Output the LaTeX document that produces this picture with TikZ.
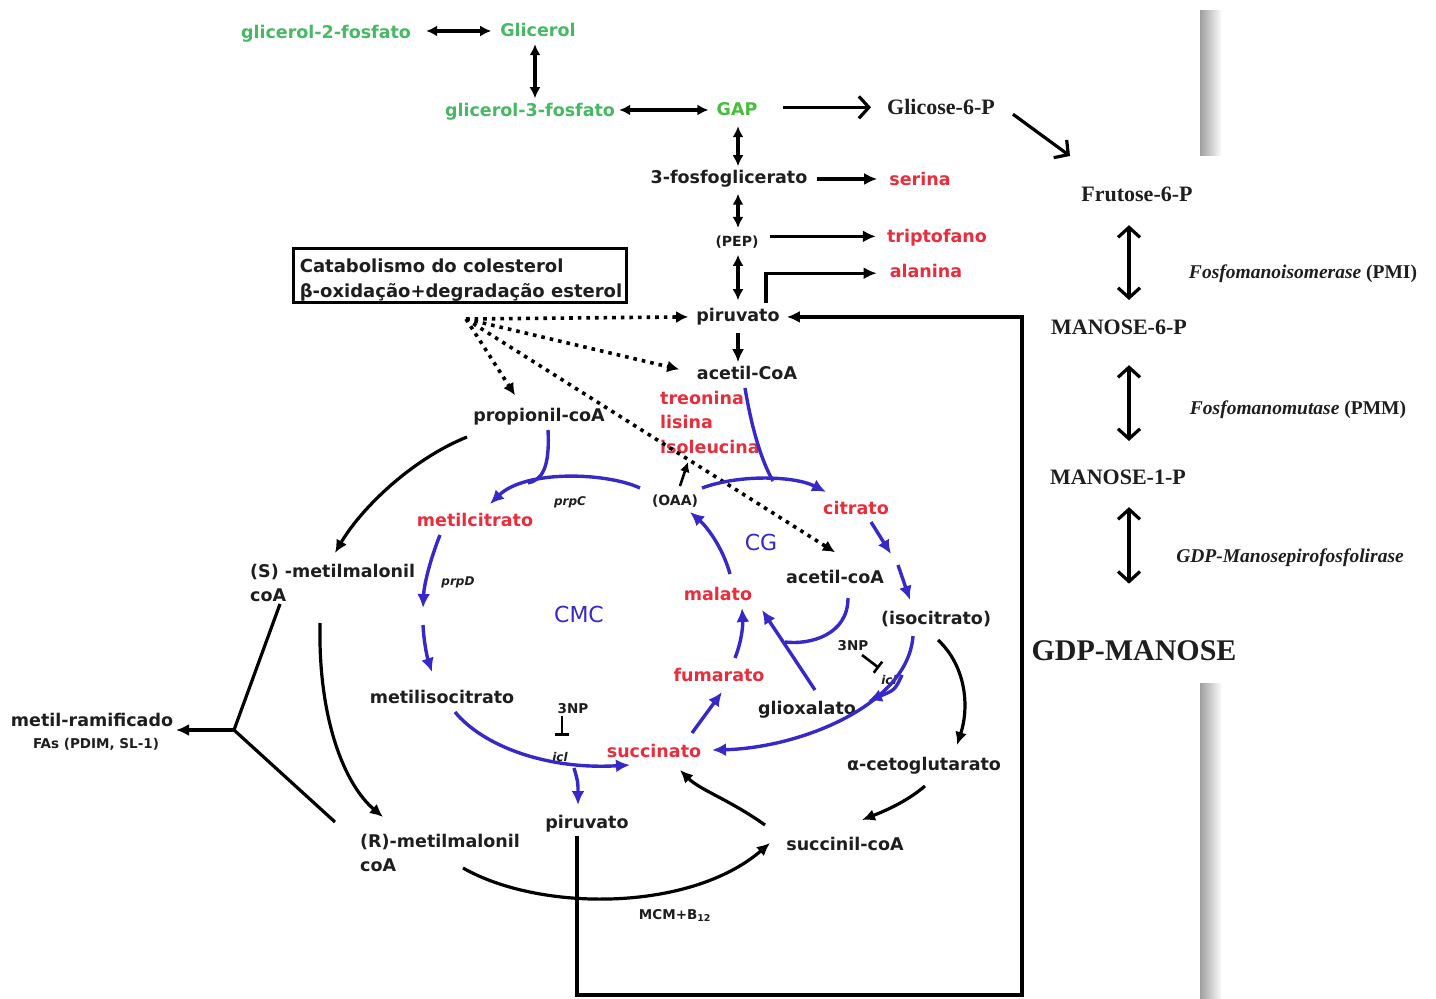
\documentclass[tikz,border=0pt]{standalone}
\usepackage{fontspec}
\setmainfont{DejaVu Sans}
\newfontfamily\serfont{Liberation Serif}
\usetikzlibrary{arrows.meta}
\definecolor{gr}{RGB}{72,184,100}
\definecolor{grb}{RGB}{70,190,60}
\definecolor{rd}{RGB}{232,45,60}
\definecolor{bl}{RGB}{55,40,200}
\definecolor{tx}{RGB}{30,30,30}
\tikzset{
 lab/.style={font=\fontsize{17.5}{21}\selectfont\bfseries, text=tx, inner sep=1pt, anchor=mid, yshift=-5pt},
 labtwo/.style={font=\fontsize{17.5}{24}\selectfont\bfseries, text=tx, inner sep=1pt, align=left, anchor=north west, yshift=-2pt},
 glab/.style={lab, text=gr},
 rlab/.style={lab, text=rd},
 sml/.style={lab, font=\fontsize{14}{16}\selectfont\bfseries},
 tny/.style={lab, font=\fontsize{13.5}{15}\selectfont\bfseries},
 itl/.style={lab, font=\fontsize{12}{14}\selectfont\bfseries\itshape},
 bll/.style={lab, font=\fontsize{22}{26}\selectfont, text=bl},
 ser/.style={font=\serfont\fontsize{22}{26}\selectfont\bfseries, text=tx, inner sep=1pt, anchor=mid, yshift=-5pt},
 bigser/.style={font=\serfont\fontsize{30}{34}\selectfont\bfseries, text=tx, inner sep=1pt, anchor=mid, yshift=-8pt},
 enz/.style={font=\serfont\fontsize{19.5}{22}\selectfont\bfseries, text=tx, inner sep=1pt, anchor=mid, yshift=-5pt},
 catframe/.style={draw=black, line width=3pt, minimum width=333pt, minimum height=54pt, inner sep=0pt},
 cattext/.style={align=left, font=\fontsize{18}{25}\selectfont\bfseries, text=tx, inner sep=0pt},
 conn/.style={draw=black, line width=3.2pt, -{Latex[length=13pt,width=12pt]}},
 dconn/.style={draw=black, line width=3.2pt, {Latex[length=11pt,width=11pt]}-{Latex[length=11pt,width=11pt]}},
 chev/.style={draw=black, line width=3.2pt, -{Straight Barb[length=10pt,width=22pt,line width=3.2pt]}},
 dchev/.style={draw=black, line width=3.2pt, {Straight Barb[length=10pt,width=22pt,line width=3.2pt]}-{Straight Barb[length=10pt,width=22pt,line width=3.2pt]}},
 bconn/.style={draw=bl, line width=3.4pt, -{Latex[length=14pt,width=13pt]}},
 bline/.style={draw=bl, line width=3.4pt},
 kline/.style={draw=black, line width=3.2pt},
 dotc/.style={draw=black, line width=3.6pt, dash pattern=on 3.6pt off 5pt, -{Latex[length=12pt,width=12pt]}},
 inh/.style={draw=black, line width=2.6pt, -{Bar[width=14pt,line width=2.6pt]}},
}
\begin{document}
\begin{tikzpicture}[x=1pt,y=-1pt]
\useasboundingbox (0,0) rectangle (1436,999);
\fill[white] (0,0) rectangle (1436,999);
% shadow bars
\shade[left color=gray!75, right color=white] (1200,10) rectangle (1222,155);
\shade[left color=gray!75, right color=white] (1200,683) rectangle (1222,999);

% ---- top (glycerol) ----
\node[glab] (g2f) at (326,31) {glicerol-2-fosfato};
\node[glab] (gli) at (538,29) {Glicerol};
\node[glab] (g3f) at (530,109) {glicerol-3-fosfato};
\node[lab, text=grb] (gap) at (737,108) {GAP};
\node[ser] (g6p) at (941,107) {Glicose-6-P};
\node[ser] (f6p) at (1137,194) {Frutose-6-P};
\node[ser] (m6p) at (1119,327) {MANOSE-6-P};
\node[ser] (m1p) at (1118,477) {MANOSE-1-P};
\node[bigser] (gdp) at (1134,650) {GDP-MANOSE};
\node[enz] (pmi) at (1303,271) {\itshape Fosfomanoisomerase \upshape(PMI)};
\node[enz] (pmm) at (1298,407) {\itshape Fosfomanomutase \upshape(PMM)};
\node[enz] (gmp) at (1290,555) {\itshape GDP-Manosepirofosfolirase};

\node[lab] (pfg) at (729,176) {3-fosfoglicerato};
\node[rlab] (ser) at (920,178) {serina};
\node[sml] (pep) at (737,239) {(PEP)};
\node[rlab] (trp) at (937,235) {triptofano};
\node[rlab] (ala) at (926,270) {alanina};
\node[lab] (pir) at (738,314) {piruvato};
\node[lab] (acoa) at (747,372) {acetil-CoA};
\node[catframe] (catb) at (459.5,275) {};
\node[cattext] (cat) at (461,280) {Catabolismo do colesterol\\β-oxidação+degradação esterol};

\node[lab] (prop) at (539,414) {propionil-coA};
\node[rlab, anchor=mid west] (tre) at (659,397) {treonina};
\node[rlab, anchor=mid west] (lis) at (659,421) {lisina};
\node[rlab, anchor=mid west] (ile) at (659,446) {isoleucina};
\node[sml] (oaa) at (675,498) {(OAA)};
\node[rlab] (cit) at (856,507) {citrato};
\node[bll] (cg) at (761,543) {CG};
\node[lab] (acoa2) at (835,576) {acetil-coA};
\node[lab] (iso) at (936,617) {(isocitrato)};
\node[rlab] (mal) at (718,593) {malato};
\node[bll] (cmc) at (579,615) {CMC};
\node[rlab] (fum) at (719,674) {fumarato};
\node[lab] (glx) at (807,707) {glioxalato};
\node[rlab] (suc) at (654,750) {succinato};
\node[lab] (akg) at (924,763) {α-cetoglutarato};
\node[lab] (scoa) at (845,843) {succinil-coA};
\node[lab] (pir2) at (587,821) {piruvato};
\node[lab] (mic) at (442,696) {metilisocitrato};
\node[rlab] (mc) at (475,519) {metilcitrato};
\node[labtwo] (smm) at (249,561) {(S) -metilmalonil\\coA};
\node[labtwo] (rmm) at (359,831) {(R)-metilmalonil\\coA};
\node[lab] (mr) at (92,719) {metil-ramificado};
\node[tny] (fas) at (96,741) {FAs (PDIM, SL-1)};
\node[tny] (mcm) at (675,912) {MCM+B\textsubscript{12}};
\node[itl] (prpc) at (570,498) {prpC};
\node[itl] (prpd) at (458,578) {prpD};
\node[tny] (np1) at (853,643) {3NP};
\node[itl] (icl1) at (889,677) {icl};
\node[tny] (np2) at (573,706) {3NP};
\node[itl] (icl2) at (560,754) {icl};

% ---- coordinates ----
\coordinate (src) at (466,319);
\coordinate (lp) at (1022,995);
\coordinate (yj) at (234,730);
\coordinate (ytop) at (280,604);
\coordinate (ybot) at (335,822);
\coordinate (ymr) at (176,730);

% ---- black connectors ----
\draw[dconn, shorten <=14pt, shorten >=8pt] ([yshift=3pt]g2f.east) -- ([yshift=3pt]g2f.east -| gli.west);
\draw[dconn, shorten <=6pt, shorten >=4pt] ([xshift=-3pt]gli.south) -- ([xshift=-3pt]gli.south |- g3f.north);
\draw[dconn, shorten <=3pt, shorten >=7pt] ([yshift=2pt]g3f.east) -- ([yshift=2pt]g3f.east -| gap.west);
\draw[chev, shorten <=24pt, shorten >=15pt] ([yshift=2pt]gap.east) -- ([yshift=2pt]gap.east -| g6p.west);
\draw[chev] ([xshift=17pt,yshift=-7pt]g6p.east) -- ([xshift=-67pt,yshift=30pt]f6p.north);
\draw[dchev, shorten <=22pt, shorten >=19pt] ([xshift=-8pt]f6p.south) -- ([xshift=-8pt]f6p.south |- m6p.north);
\draw[dchev, shorten <=29pt, shorten >=28pt] ([xshift=10pt]m6p.south) -- ([xshift=10pt]m6p.south |- m1p.north);
\draw[dchev, shorten <=21pt, shorten >=56pt] ([xshift=11pt]m1p.south) -- ([xshift=11pt]m1p.south |- gdp.north);

\draw[dconn, shorten <=9pt, shorten >=3pt] ([xshift=1pt]gap.south) -- ([xshift=1pt]gap.south |- pfg.north);
\draw[conn, shorten <=8pt, shorten >=11pt] (pfg.east) -- (pfg.east -| ser.west);
\draw[dconn, shorten <=5pt, shorten >=7pt] ([xshift=1pt]pep.north |- pfg.south) -- ([xshift=1pt]pep.north);
\draw[conn, shorten <=10pt, shorten >=10pt] ([yshift=6pt]pep.east) -- ([yshift=6pt]pep.east -| trp.west);
\draw[dconn, shorten <=5pt, shorten >=7pt] ([xshift=1pt]pep.south) -- ([xshift=1pt]pep.south |- pir.north);
\draw[conn, shorten >=12pt] ([xshift=28pt,yshift=4pt]pir.north) |- ([yshift=-2pt]ala.west);
\draw[conn, shorten <=6pt, shorten >=3pt] (pir.south) -- (pir.south |- acoa.north);
\draw[conn, shorten >=6pt] ([xshift=-10pt,yshift=-2pt]pir2.south) |- (lp) |- (pir.east);

% dotted
\draw[dotc] (src) -- ([xshift=-7pt]pir.west);
\draw[dotc, shorten >=17pt] (src) -- (acoa.west);
\draw[dotc] (src) -- ([xshift=-24pt,yshift=12pt]prop.north);
\draw[dotc] (src) -- ([yshift=17pt]acoa2.north);

% left part
\draw[conn] (467,437) .. controls (410,460) and (360,510) .. (335,553);
\draw[conn] (320,623) .. controls (318,720) and (345,785) .. (383,817);
\draw[kline] (ytop) -- (yj) -- (ybot);
\draw[conn] (yj) -- (ymr);
\draw[conn] (463,868) .. controls (540,912) and (690,912) .. (770,843);

% TCA black
\draw[conn] (938,640) .. controls (965,665) and (970,705) .. (957,745);
\draw[conn] (925,786) .. controls (905,803) and (882,812) .. (862,820);
\draw[conn] (765,825) .. controls (730,800) and (700,790) .. (680,770);
\draw[draw=black, line width=2.6pt, -{Latex[length=10pt,width=10pt]}] (680,486) -- (688,462);

% inhibitors
\draw[inh] (862,655) -- (879,668);
\draw[inh] (562,716) -- (562,736);

% ---- blue ----
\draw[bline] (745,388) .. controls (752,430) and (762,462) .. (773,481);
\draw[bconn] (702,488) .. controls (740,474) and (795,476) .. (826,492);
\draw[bline] (548,430) .. controls (550,468) and (542,480) .. (528,483);
\draw[bconn] (640,488) .. controls (605,472) and (525,470) .. (490,504);
\draw[bconn] (440,535) .. controls (430,560) and (424,585) .. (423,608);
\draw[bconn] (423,625) .. controls (424,645) and (428,660) .. (432,672);
\draw[bconn] (455,712) .. controls (482,745) and (545,770) .. (630,765);
\draw[bconn] (574,768) .. controls (578,782) .. (578,805);
\draw[bconn] (730,574) .. controls (722,545) and (705,525) .. (690,512);
\draw[bconn] (735,658) .. controls (742,640) and (743,625) .. (742,608);
\draw[bconn] (692,733) -- (722,692);
\draw[bconn] (815,690) -- (762,610);
\draw[bline] (848,598) .. controls (848,635) and (810,645) .. (785,642);
\draw[bconn] (871,522) -- (891,554);
\draw[bconn] (898,565) -- (910,600);
\draw[bconn] (913,636) .. controls (908,705) and (800,748) .. (712,750);
\draw[bconn] (902,675) .. controls (895,690) .. (868,701);
\end{tikzpicture}
\end{document}
